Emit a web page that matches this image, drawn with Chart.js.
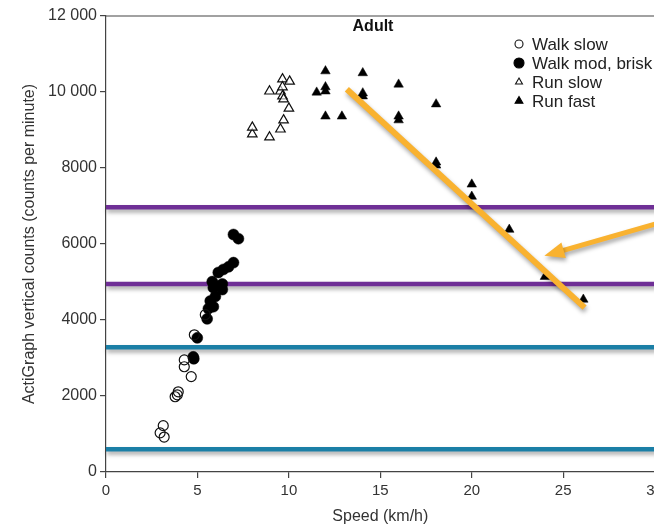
<!DOCTYPE html>
<html><head><meta charset="utf-8">
<script src="https://cdn.jsdelivr.net/npm/chart.js@4.4.1/dist/chart.umd.min.js"></script>
<style>html,body{margin:0;padding:0;overflow:hidden;background:#fff}#wrap{width:667px;height:526px}</style>
</head><body><div id="wrap"><canvas id="c" width="667" height="526"></canvas></div>
<script>
// ---- data ----
const walkSlowSpeed  = [2.96, 3.18, 3.13, 3.78, 3.90, 3.95, 4.28, 4.28, 4.66, 4.83, 5.43];
const walkSlowCounts = [1030, 920, 1220, 1980, 2030, 2110, 2950, 2770, 2510, 3610, 4140];

const walkBriskSpeed  = [4.77, 4.80, 4.99, 5.53, 5.60, 5.87, 5.98, 5.70, 6.36, 5.87, 6.00, 6.36, 5.81, 6.14, 6.42, 6.70, 6.97, 6.97, 7.24];
const walkBriskCounts = [3030, 2980, 3530, 4030, 4300, 4350, 4620, 4500, 4800, 4850, 4900, 4950, 5010, 5250, 5330, 5400, 5510, 6250, 6140];

const runSlowSpeed  = [8.00, 8.00, 8.94, 8.94, 9.54, 9.71, 9.65, 9.54, 9.65, 9.65, 9.71, 10.00, 10.04];
const runSlowCounts = [8890, 9070, 8810, 10020, 9020, 9260, 10340, 10020, 10130, 9890, 9810, 9570, 10280];

const runFastSpeed  = [11.52, 12.0, 12.0, 12.0, 12.0, 12.9, 14.04, 14.04, 14.04, 16.0, 16.0, 16.0, 18.05, 18.05, 18.05, 20.0, 20.0, 22.05, 24.0, 26.1];
const runFastCounts = [9990, 10550, 10130, 10020, 9360, 9360, 10500, 9970, 9890, 10200, 9360, 9260, 9680, 8150, 8070, 7570, 7250, 6380, 5140, 4540];

const cutPointCounts = [6970, 4950, 3280, 600];
const cutLineSpeed   = [0, 30.1];

const trendSpeed  = [13.17, 26.17];
const trendCounts = [10074, 4325];
const arrowSpeed  = [30.3, 23.97];
const arrowCounts = [6560, 5690];

const xTickValues = [0, 5, 10, 15, 20, 25, 30];
const yTickValues = [0, 2000, 4000, 6000, 8000, 10000, 12000];

const chartTitle = 'Adult';
const xTitle = 'Speed (km/h)';
const yTitle = 'ActiGraph vertical counts (counts per minute)';

// ---- styles ----
const cutColors = ['#6f2f96', '#6f2f96', '#1b7fa6', '#1b7fa6'];
const ORANGE = '#f9b230';
const FONT = "'Liberation Sans', Arial, Helvetica, sans-serif";

const toXY = (xs, ys) => xs.map((x, i) => ({x: x, y: ys[i]}));

Chart.defaults.font.family = FONT;
Chart.defaults.color = '#333';

const datasets = [
  {label: 'trend', data: toXY(trendSpeed, trendCounts), showLine: true, borderColor: ORANGE,
   borderWidth: 6, pointRadius: 0, order: 0, clip: false, shadow: true},
  {label: 'arrow', data: toXY(arrowSpeed, arrowCounts), showLine: false, pointRadius: 0,
   order: 0, clip: false, arrow: true},
  {label: 'Walk slow', data: toXY(walkSlowSpeed, walkSlowCounts), pointStyle: 'circle', pointRadius: 5,
   borderColor: '#111', borderWidth: 1.2, backgroundColor: 'rgba(255,255,255,0)', order: 1, inLegend: true, legendRadius: 4},
  {label: 'Walk mod, brisk', data: toXY(walkBriskSpeed, walkBriskCounts), pointStyle: 'circle', pointRadius: 5.5,
   borderColor: '#000', borderWidth: 0.5, backgroundColor: '#000', order: 1, inLegend: true, legendRadius: 5},
  {label: 'Run slow', data: toXY(runSlowSpeed, runSlowCounts), pointStyle: 'triangle', pointRadius: 5.5,
   borderColor: '#111', borderWidth: 1.2, backgroundColor: 'rgba(255,255,255,0.6)', order: 1, inLegend: true, legendRadius: 4},
  {label: 'Run fast', data: toXY(runFastSpeed, runFastCounts), pointStyle: 'triangle', pointRadius: 5.5,
   borderColor: '#000', borderWidth: 0.5, backgroundColor: '#000', order: 1, inLegend: true, legendRadius: 4.5}
];
cutPointCounts.forEach((c, i) => {
  datasets.push({label: 'cut ' + c, data: cutLineSpeed.map(x => ({x: x, y: c})), showLine: true,
    borderColor: cutColors[i], borderWidth: 4.5, pointRadius: 0, order: 2, clip: false, shadow: true});
});

const shadowPlugin = {
  id: 'shadow',
  beforeDatasetDraw(chart, args) {
    const ds = chart.data.datasets[args.index];
    if (ds.shadow) {
      const ctx = chart.ctx;
      ctx.save();
      ctx.shadowColor = 'rgba(0,0,0,0.35)';
      ctx.shadowBlur = 4;
      ctx.shadowOffsetX = 1;
      ctx.shadowOffsetY = 3;
    }
  },
  afterDatasetDraw(chart, args) {
    if (chart.data.datasets[args.index].shadow) chart.ctx.restore();
  }
};

const decorPlugin = {
  id: 'decor',
  afterDatasetsDraw(chart) {
    const ctx = chart.ctx;
    const area = chart.chartArea;
    // top frame line
    ctx.save();
    ctx.strokeStyle = '#444';
    ctx.lineWidth = 1.2;
    ctx.beginPath();
    ctx.moveTo(area.left, area.top);
    ctx.lineTo(chart.width, area.top);
    ctx.stroke();
    ctx.restore();

    // arrow
    chart.data.datasets.forEach((ds, i) => {
      if (!ds.arrow) return;
      const pts = chart.getDatasetMeta(i).data;
      const t = pts[0], h = pts[1];
      const dx = h.x - t.x, dy = h.y - t.y;
      const len = Math.hypot(dx, dy);
      const ux = dx / len, uy = dy / len;
      const headLen = 20, headW = 8;
      const bx = h.x - ux * headLen, by = h.y - uy * headLen;
      ctx.save();
      ctx.shadowColor = 'rgba(0,0,0,0.35)';
      ctx.shadowBlur = 4;
      ctx.shadowOffsetX = 1;
      ctx.shadowOffsetY = 3;
      ctx.strokeStyle = ORANGE;
      ctx.fillStyle = ORANGE;
      ctx.lineWidth = 5;
      ctx.beginPath();
      ctx.moveTo(t.x, t.y);
      ctx.lineTo(bx + ux * 2, by + uy * 2);
      ctx.stroke();
      ctx.beginPath();
      ctx.moveTo(h.x, h.y);
      ctx.lineTo(bx - uy * headW, by + ux * headW);
      ctx.lineTo(bx + uy * headW, by - ux * headW);
      ctx.closePath();
      ctx.fill();
      ctx.restore();
    });

    // title
    ctx.save();
    ctx.font = 'bold 16px ' + FONT;
    ctx.fillStyle = '#111';
    ctx.textAlign = 'center';
    ctx.textBaseline = 'middle';
    ctx.fillText(chartTitle, 373, 27);
    ctx.restore();

    // legend
    ctx.save();
    ctx.font = '17px ' + FONT;
    ctx.textBaseline = 'middle';
    ctx.textAlign = 'left';
    let row = 0;
    chart.data.datasets.forEach(ds => {
      if (!ds.inLegend) return;
      const y = 44 + row * 19;
      ctx.fillStyle = ds.backgroundColor;
      ctx.strokeStyle = ds.borderColor;
      ctx.lineWidth = 1.1;
      Chart.helpers.drawPoint(ctx, {pointStyle: ds.pointStyle, radius: ds.legendRadius, borderWidth: 1.1, rotation: 0}, 519, y);
      ctx.fillStyle = '#222';
      ctx.fillText(ds.label, 532, y + 1);
      row++;
    });
    ctx.restore();
  }
};

const fmt = v => v >= 10000 ? String(v).replace(/\B(?=(\d{3})+(?!\d))/g, ' ') : String(v);

new Chart(document.getElementById('c'), {
  type: 'scatter',
  data: {datasets: datasets},
  options: {
    responsive: false,
    animation: false,
    events: [],
    layout: {padding: {top: 16, left: 0, right: 0, bottom: 0}},
    plugins: {legend: {display: false}, tooltip: {enabled: false}, title: {display: false}},
    scales: {
      x: {
        type: 'linear', min: xTickValues[0], max: xTickValues[xTickValues.length - 1],
        afterBuildTicks: s => { s.ticks = xTickValues.map(v => ({value: v})); },
        afterFit: s => { s.height = 54; },
        border: {color: '#444', width: 1.2},
        grid: {drawOnChartArea: false, drawTicks: true, tickLength: 6, color: '#444', lineWidth: 1.2},
        ticks: {font: {size: 15}, color: '#333', padding: 4, maxRotation: 0},
        title: {display: true, text: xTitle, font: {size: 16}, color: '#333', padding: {top: 0, bottom: 0}}
      },
      y: {
        type: 'linear', min: yTickValues[0], max: yTickValues[yTickValues.length - 1],
        afterBuildTicks: s => { s.ticks = yTickValues.map(v => ({value: v})); },
        afterFit: s => { s.width = 106; },
        border: {color: '#444', width: 1.2},
        grid: {drawOnChartArea: false, drawTicks: true, tickLength: 6, color: '#444', lineWidth: 1.2},
        ticks: {font: {size: 16}, color: '#333', padding: 3, callback: v => fmt(v)},
        title: {display: true, text: yTitle, font: {size: 16}, color: '#333', padding: {top: 20, bottom: 0}}
      }
    }
  },
  plugins: [shadowPlugin, decorPlugin]
});
</script>
</body></html>
